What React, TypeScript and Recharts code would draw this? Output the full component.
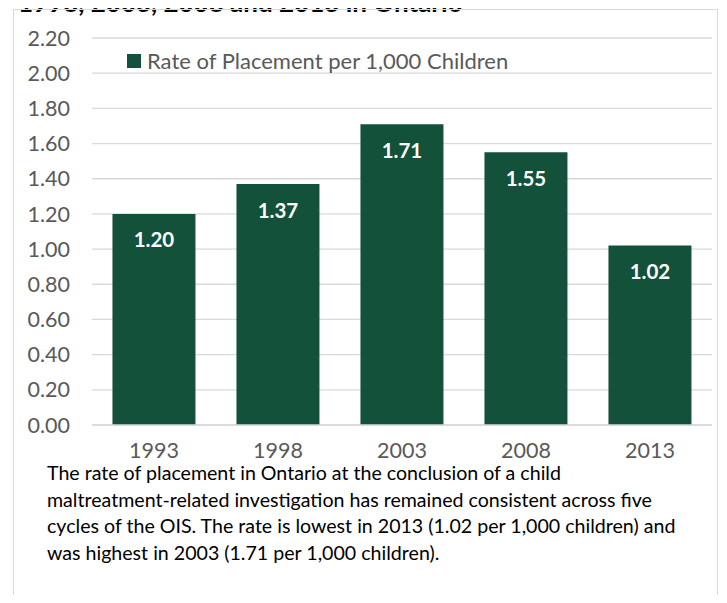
import { BarChart, Bar, XAxis, YAxis, CartesianGrid, Legend, LabelList } from "recharts";

const years = ["1993", "1998", "2003", "2008", "2013"];
const rates = [1.2, 1.37, 1.71, 1.55, 1.02];
const yTicks = [0, 0.2, 0.4, 0.6, 0.8, 1.0, 1.2, 1.4, 1.6, 1.8, 2.0, 2.2];
const seriesName = "Rate of Placement per 1,000 Children";
const captionLines = [
  "The rate of placement in Ontario at the conclusion of a child",
  "maltreatment-related investigation has remained consistent across five",
  "cycles of the OIS. The rate is lowest in 2013 (1.02 per 1,000 children) and",
  "was highest in 2003 (1.71 per 1,000 children).",
];

const data = years.map((year, i) => ({ year, rate: rates[i] }));

const GREEN = "#13513A";
const FONT = "Lato, 'Noto Sans', sans-serif";

const renderLegend = () => (
  <div style={{ display: "flex", alignItems: "center", fontFamily: FONT, fontSize: 22, lineHeight: "22px", color: "#595959" }}>
    <span style={{ width: 14, height: 14, background: GREEN, display: "inline-block", marginRight: 6 }} />
    <span>{seriesName}</span>
  </div>
);

export default function App() {
  return (
    <div style={{ position: "relative", width: 727, height: 603, margin: -8, overflow: "hidden", background: "#fff" }}>
      <div
        style={{
          position: "absolute",
          left: 18,
          top: -11,
          fontFamily: FONT,
          fontWeight: 700,
          fontSize: 26,
          lineHeight: "26px",
          color: "#000",
          whiteSpace: "nowrap",
        }}
      >
        1998, 2003, 2008 and 2013 in Ontario
      </div>
      <div
        style={{
          position: "absolute",
          left: 13,
          top: 9,
          width: 703,
          height: 640,
          border: "1px solid #d9d9d9",
        }}
      />
      <div style={{ position: "absolute", left: 0, top: 0 }}>
        <BarChart
          width={727}
          height={470}
          data={data}
          margin={{ top: 16, right: 15, bottom: 0, left: 0 }}
          barCategoryGap="16.5%"
        >
          <CartesianGrid vertical={false} stroke="#d9d9d9" strokeWidth={1.3} />
          <XAxis
            dataKey="year"
            height={45}
            tickLine={false}
            axisLine={{ stroke: "#d9d9d9", strokeWidth: 1.3 }}
            tickSize={0}
            tickMargin={18}
            tick={{ fill: "#595959", fontSize: 21.5, fontFamily: FONT }}
          />
          <YAxis
            width={92}
            domain={[0, 2.2]}
            ticks={yTicks}
            interval={0}
            axisLine={false}
            tickLine={false}
            tickSize={0}
            tickMargin={22}
            tickFormatter={(v: number) => v.toFixed(2)}
            tick={{ fill: "#595959", fontSize: 21.5, fontFamily: FONT }}
          />
          <Legend
            verticalAlign="top"
            align="left"
            height={22}
            content={renderLegend}
            wrapperStyle={{ top: 50, left: 127, width: "auto" }}
          />
          <Bar dataKey="rate" name={seriesName} fill={GREEN} isAnimationActive={false}>
            <LabelList
              dataKey="rate"
              position="insideTop"
              offset={19}
              fill="#fff"
              fontWeight={700}
              fontSize={20.5}
              fontFamily={FONT}
              formatter={(v: number) => v.toFixed(2)}
            />
          </Bar>
        </BarChart>
      </div>
      <div
        style={{
          position: "absolute",
          left: 47,
          top: 463,
          fontFamily: FONT,
          fontSize: 19.6,
          lineHeight: "20px",
          color: "#000",
          whiteSpace: "nowrap",
        }}
      >
        {captionLines.map((line) => (
          <div key={line} style={{ marginBottom: 6.7 }}>
            {line}
          </div>
        ))}
      </div>
    </div>
  );
}
